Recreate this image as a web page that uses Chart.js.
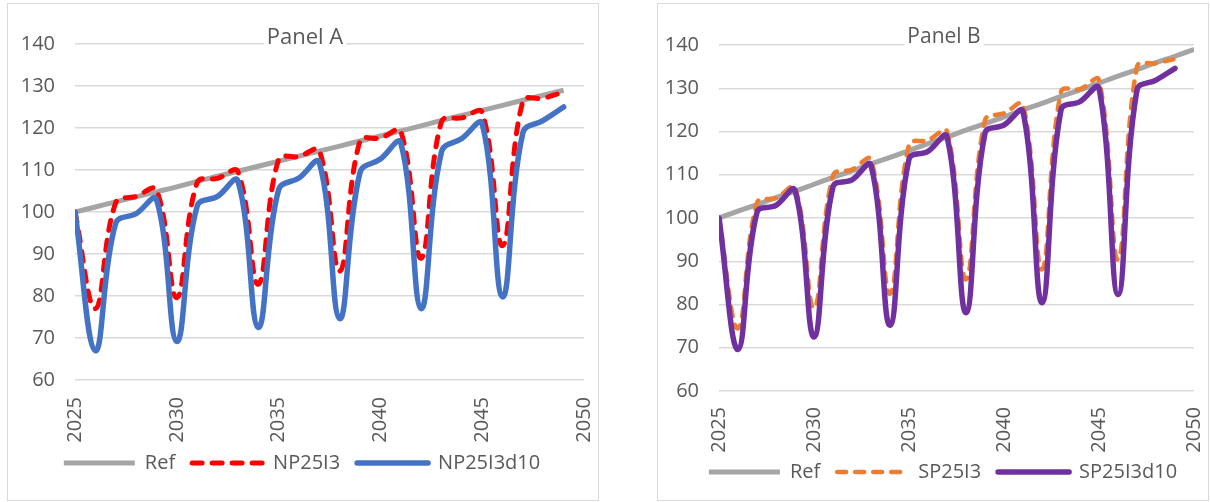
<!DOCTYPE html>
<html><head><meta charset="utf-8">
<script src="https://cdn.jsdelivr.net/npm/chart.js@4.4.1/dist/chart.umd.min.js"></script>
<style>
html,body{margin:0;padding:0;background:#fff;width:1210px;height:502px;overflow:hidden;}
.panel{position:absolute;border:1px solid #d9d9d9;background:#fff;}
#pa{left:7px;top:3px;width:590px;height:496px;}
#pb{left:657px;top:3px;width:550px;height:496px;}
canvas{position:absolute;left:0;top:0;}
</style></head><body>
<div class="panel" id="pa"><canvas id="ca" width="590" height="496"></canvas></div>
<div class="panel" id="pb"><canvas id="cb" width="550" height="496"></canvas></div>
<script>
// ---- data ----
const years = [2025,2026,2027,2028,2029,2030,2031,2032,2033,2034,2035,2036,2037,2038,2039,2040,2041,2042,2043,2044,2045,2046,2047,2048,2049];
const yearsRefB = [2025,2026,2027,2028,2029,2030,2031,2032,2033,2034,2035,2036,2037,2038,2039,2040,2041,2042,2043,2044,2045,2046,2047,2048,2049,2050];
const refA = [100,101.2,102.4,103.6,104.8,106.0,107.3,108.5,109.7,110.9,112.1,113.3,114.5,115.7,116.9,118.1,119.3,120.5,121.8,123.0,124.2,125.4,126.6,127.8,129.0];
const np25i3 = [100,77,102.2,103.7,105.3,79.6,107,108,109.6,82.8,112.5,113.2,114.6,85.9,116.9,117.6,119.2,89,121.5,122.4,123.7,92,126.4,127.1,128.6];
const np25i3d10 = [100,67,97.3,99.6,103,69.2,101.4,103.7,107.4,72.5,105.3,108.1,111.8,74.6,109.4,112.6,116.5,77,114.3,117.5,121,79.8,118.9,121.8,125];
const refB = [100,101.6,103.1,104.7,106.2,107.8,109.4,110.9,112.5,114.0,115.6,117.2,118.7,120.3,121.8,123.4,125.0,126.5,128.1,129.6,131.2,132.8,134.3,135.9,137.4,139.0];
const sp25i3 = [100,74.5,103.5,104.6,107,79.1,109.8,111.2,113.5,82.5,116.9,118,120,85.8,122.6,124.2,126.2,88.1,129.2,129.8,131.9,90.4,135,135.8,136.8];
const sp25i3d10 = [100,69.6,101.3,102.9,106.4,72.5,107.2,108.8,112.2,75.2,113.6,115.4,118.8,78.1,119.6,121.5,124.6,80.4,125,126.9,130,82.3,129.6,131.9,134.6];
const xTicks = [2025,2030,2035,2040,2045,2050];
const yTicks = [60,70,80,90,100,110,120,130,140];

const FONT = "'Open Sans', sans-serif";
const TXT = '#595959';

function pts(xs, ys){ return ys.map((v,i)=>({x: xs[i], y: v})); }

// draws the (space-reserving) title text on a white patch over the top gridline
const titleDraw = {
  id: 'titleDraw',
  beforeDatasetsDraw(chart, args, opts) {
    const t = chart.titleBlock; if (!t) return;
    const ctx = chart.ctx;
    const text = chart.options.plugins.title.text;
    ctx.save();
    ctx.font = opts.size + 'px ' + FONT;
    const w = ctx.measureText(text).width;
    const cx = (t.left + t.right) / 2 + opts.dx;
    const cy = t.top + opts.padTop + 12;
    ctx.fillStyle = '#fff';
    ctx.fillRect(cx - w/2 - 3, cy - 9, w + 6, 20);
    ctx.fillStyle = TXT;
    ctx.textAlign = 'center';
    ctx.textBaseline = 'middle';
    ctx.fillText(text, cx, cy);
    ctx.restore();
  }
};
const legendShift = {
  id: 'legendShift',
  afterLayout(chart, args, opts) {
    const L = chart.legend; if (!L) return;
    L.top -= opts.d; L.bottom -= opts.d;
    L.left += opts.dx; L.right += opts.dx;
  }
};

function legendLabels(chart) {
  const items = Chart.defaults.plugins.legend.labels.generateLabels(chart);
  items.forEach(it => {
    const ds = chart.data.datasets[it.datasetIndex];
    it.lineDash = ds.borderDash || [];
    it.lineWidth = ds.borderWidth;
    it.lineCap = ds.borderCapStyle;
    it.strokeStyle = ds.borderColor;
    it.fillStyle = ds.borderColor;
    it.pointStyle = 'line';
  });
  return items;
}

function makeChart(id, c) {
  return new Chart(document.getElementById(id), {
    type: 'line',
    data: { datasets: [
      { label: 'Ref', data: pts(c.refX, c.ref), borderColor: '#A5A5A5', backgroundColor: '#A5A5A5', borderWidth: 5, order: 3, borderCapStyle: 'butt' },
      { label: c.n1, data: pts(years, c.s1), borderColor: c.col1, backgroundColor: c.col1, borderWidth: c.w1, borderDash: c.dash, borderCapStyle: 'round', order: 2 },
      { label: c.n2, data: pts(years, c.s2), borderColor: c.col2, backgroundColor: c.col2, borderWidth: 5.5, order: 1, borderCapStyle: 'round' }
    ]},
    options: {
      responsive: false, devicePixelRatio: 1, animation: false, events: [],
      elements: { point: { radius: 0, hoverRadius: 0, pointStyle: 'line' }, line: { tension: 0.4, fill: false } },
      layout: { padding: { left: 0, right: 14, top: 0, bottom: c.padBottom } },
      scales: {
        x: {
          type: 'linear', min: 2025, max: 2050,
          afterBuildTicks: s => { s.ticks = xTicks.map(v => ({ value: v })); },
          afterFit: s => { s.height = c.xH; s.paddingLeft = 0; s.paddingRight = 0; },
          grid: { display: false, drawTicks: false },
          border: { display: false },
          ticks: { autoSkip: false, minRotation: 90, maxRotation: 90, padding: c.xPad, color: TXT, font: { size: 20, family: FONT }, callback: v => String(v) }
        },
        y: {
          min: 60, max: 140,
          afterBuildTicks: s => { s.ticks = yTicks.map(v => ({ value: v })); },
          afterFit: s => { s.width = c.yW; },
          grid: { color: '#d9d9d9', lineWidth: 1.5, drawTicks: false },
          border: { display: false },
          ticks: { padding: 20, color: TXT, font: { size: 20, family: FONT } }
        }
      },
      plugins: {
        tooltip: { enabled: false },
        title: { display: true, text: c.title, color: 'rgba(0,0,0,0)', font: { size: 20, family: FONT, weight: 'normal' }, padding: { top: c.tTop, bottom: c.tBot } },
        titleDraw: { size: c.tSize, padTop: c.tTop, dx: c.tDx },
        legendShift: { d: c.legShift, dx: c.legDx },
        legend: {
          position: 'bottom',
          labels: { usePointStyle: true, pointStyle: 'line', pointStyleWidth: 71, padding: c.legPad, color: TXT, font: { size: 20, family: FONT },
            generateLabels: legendLabels,
            sort: (a, b) => a.datasetIndex - b.datasetIndex }
        }
      }
    },
    plugins: [titleDraw, legendShift]
  });
}

makeChart('ca', { title: 'Panel A', refX: years, ref: refA, n1: 'NP25I3', s1: np25i3, n2: 'NP25I3d10', s2: np25i3d10,
  col1: '#FF0000', col2: '#4472C4', w1: 5, dash: [10, 10], yW: 67, xH: 65, xPad: 17, padBottom: 8, legPad: 17, legShift: 9, legDx: 6,
  tTop: 21.5, tBot: -5.5, tSize: 22, tDx: 9 });
makeChart('cb', { title: 'Panel B', refX: yearsRefB, ref: refB, n1: 'SP25I3', s1: sp25i3, n2: 'SP25I3d10', s2: sp25i3d10,
  col1: '#ED7D31', col2: '#7030A0', w1: 4.5, dash: [9, 9], yW: 61, xH: 62, xPad: 16, padBottom: 0, legPad: 17, legShift: 8, legDx: 17,
  tTop: 21, tBot: -4, tSize: 21, tDx: 18 });
</script>
</body></html>
